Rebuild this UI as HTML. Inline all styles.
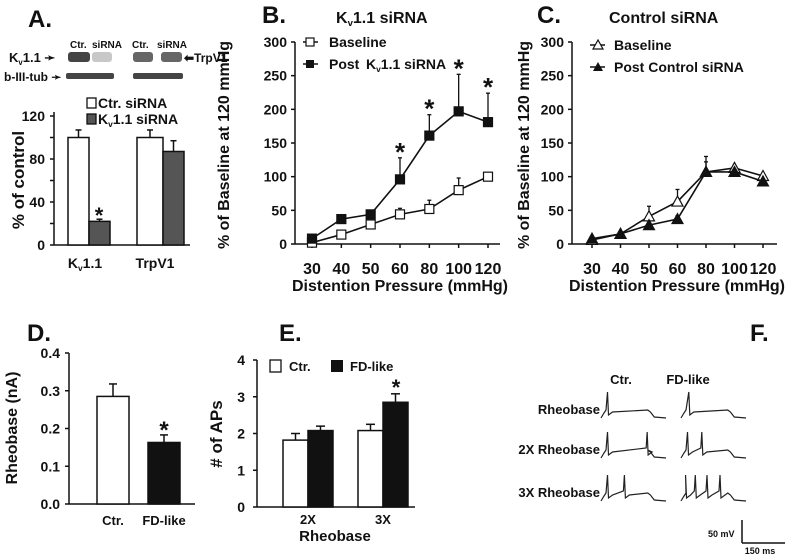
<!DOCTYPE html>
<html><head><meta charset="utf-8">
<style>
html,body{margin:0;padding:0;background:#fff;}
svg{display:block;font-family:"Liberation Sans",Arial,sans-serif;font-weight:bold;}
</style></head>
<body>
<svg id="fig" width="800" height="558" viewBox="0 0 800 558" xmlns="http://www.w3.org/2000/svg"></svg>
<script>
// ---------- data ----------
const aGroups = ["Kv1.1","TrpV1"];
const aCtr = [100,100];
const aCtrErr = [107,107];
const aSi = [22,87];
const aSiErr = [24,97];
const aTicks = [0,40,80,120];

const bCats = [30,40,50,60,80,100,120];
const bBase = [2,14,29,44,52,80,100];
const bBaseErr = [4,16,31,53,65,98,100];
const bPost = [8,37,44,96,161,197,181];
const bPostErr = [10,39,46,128,192,252,224];
const bStar = [false,false,false,true,true,true,true];
const yTicks300 = [0,50,100,150,200,250,300];

const cBase = [6,15,41,63,107,113,101];
const cBaseErr = [8,18,56,81,130,115,103];
const cPost = [8,15,28,37,107,107,93];
const cPostErr = [10,18,30,42,122,109,95];

const dCats = ["Ctr.","FD-like"];
const dVals = [0.285,0.163];
const dErr = [0.318,0.183];
const dTicks = [0.0,0.1,0.2,0.3,0.4];

const eCats = ["2X","3X"];
const eCtr = [1.82,2.08];
const eCtrErr = [2.0,2.25];
const eFD = [2.08,2.85];
const eFDErr = [2.2,3.08];
const eTicks = [0,1,2,3,4];

// ---------- helpers ----------
const svg = document.getElementById('fig');
const NS = "http://www.w3.org/2000/svg";
function el(tag, attrs, parent){
  const e = document.createElementNS(NS, tag);
  for (const k in attrs) e.setAttribute(k, attrs[k]);
  (parent||svg).appendChild(e);
  return e;
}
function txt(x,y,s,size,anchor,parent,extra){
  const t = el('text',{x:x,y:y,'font-size':size,'text-anchor':anchor||'start',fill:'#111'},parent);
  if (extra) for (const k in extra) t.setAttribute(k, extra[k]);
  t.textContent = s;
  return t;
}
function group(name){
  const g = el('g',{});
  
  
  return g;
}
function line(x1,y1,x2,y2,g,w){ return el('line',{x1:x1,y1:y1,x2:x2,y2:y2,stroke:'#111','stroke-width':w||1.5},g); }
function kv(x,y,size,anchor,g,suffix){
  const t = el('text',{x:x,y:y,'font-size':size,'text-anchor':anchor||'start',fill:'#111'},g);
  t.appendChild(document.createTextNode('K'));
  const s = el('tspan',{'font-size':size*0.6,dy:3},t); s.textContent='v';
  const r = el('tspan',{dy:-3},t); r.textContent='1.1'+(suffix||'');
  return t;
}

// ---------- Panel A ----------
(function(){
  const g = group('panel-a');
  txt(28,27,'A.',24,'start',g);
  const wb = group('western-blot');
  txt(70,48,'Ctr.',10,'start',wb); txt(92,48,'siRNA',10,'start',wb);
  txt(132,48,'Ctr.',10,'start',wb); txt(157,48,'siRNA',10,'start',wb);
  kv(9,62,13,'start',wb,' ➛');
  txt(4,81,'b-III-tub ➛',12,'start',wb);
  txt(184,62,'⬅TrpV1',12,'start',wb);
  const bands = [[68,22,'#444'],[92,20,'#c8c8c8'],[133,20,'#666'],[161,21,'#666']];
  bands.forEach(b=>el('rect',{x:b[0],y:52,width:b[1],height:10,rx:3,fill:b[2]},wb));
  [[66,48],[133,50]].forEach(b=>el('rect',{x:b[0],y:73,width:b[1],height:6,rx:2,fill:'#444'},wb));
  const y = v => 245 - v*(129/120);
  const ax = group('panel-a-axes'); g.appendChild(ax);
  line(54,112,54,245,ax); line(54,245,190,245,ax);
  [0,20,40,60,80,100,120].forEach(v=>line(50,y(v),54,y(v),ax));
  aTicks.forEach(v=>txt(45,y(v)+5,String(v),14,'end',ax));
  txt(24,180,'% of control',17,'middle',ax,{transform:'rotate(-90 24 180)'});
  const gx = [68,137], gw=[21,26], sw=[21,21];
  aGroups.forEach((c,i)=>{
    const r1 = el('rect',{x:gx[i],y:y(aCtr[i]),width:gw[i],height:245-y(aCtr[i]),fill:'#fff',stroke:'#111','stroke-width':1.5},g);
    
    
    line(gx[i]+gw[i]/2,y(aCtr[i]),gx[i]+gw[i]/2,y(aCtrErr[i]),g); line(gx[i]+gw[i]/2-3,y(aCtrErr[i]),gx[i]+gw[i]/2+3,y(aCtrErr[i]),g);
    const x2 = gx[i]+gw[i];
    const r2 = el('rect',{x:x2,y:y(aSi[i]),width:sw[i],height:245-y(aSi[i]),fill:'#555',stroke:'#111','stroke-width':1.5},g);
    
    
    line(x2+sw[i]/2,y(aSi[i]),x2+sw[i]/2,y(aSiErr[i]),g); line(x2+sw[i]/2-3,y(aSiErr[i]),x2+sw[i]/2+3,y(aSiErr[i]),g);
  });
  txt(99,y(aSiErr[0])+4,'*',22,'middle',g);
  kv(85,268,14,'middle',g);
  txt(155,268,'TrpV1',14,'middle',g);
  const lg = group('panel-a-legend'); g.appendChild(lg);
  el('rect',{x:87,y:98,width:9,height:10,fill:'#fff',stroke:'#111','stroke-width':1.3},lg);
  txt(98,108,'Ctr. siRNA',14,'start',lg);
  el('rect',{x:87,y:114,width:9,height:10,fill:'#555',stroke:'#111','stroke-width':1.3},lg);
  kv(98,124,14,'start',lg,' siRNA');
})();

// ---------- line chart helper ----------
function lineChart(name, ax0, xs, s1, e1, s2, e2, marker, stars, titleX){
  const g = group(name);
  const y = v => 244 - v*(202/300);
  const x = i => xs[0] + i*(xs[1]-xs[0])/6;
  line(ax0,42,ax0,244,g); line(ax0,244,ax0+205,244,g);
  yTicks300.forEach(v=>{ line(ax0-4,y(v),ax0,y(v),g); txt(ax0-8,y(v)+5,String(v),14,'end',g); });
  bCats.forEach((c,i)=>{ line(x(i),244,x(i),248,g); txt(x(i),274,String(c),16,'middle',g); });
  txt(ax0+105,291,'Distention Pressure (mmHg)',16,'middle',g);
  txt(titleX,145,'% of Baseline at 120 mmHg',16,'middle',g,{transform:'rotate(-90 '+titleX+' 145)'});
  function series(vals, errs, fill, sname){
    const sg = group(sname); g.appendChild(sg);
    vals.forEach((v,i)=>{ line(x(i),y(v),x(i),y(errs[i]),sg,1.3); line(x(i)-2,y(errs[i]),x(i)+2,y(errs[i]),sg,1.3); });
    el('polyline',{points:vals.map((v,i)=>x(i)+','+y(v)).join(' '),fill:'none',stroke:'#111','stroke-width':1.6},sg);
    vals.forEach((v,i)=>{
      let m;
      if (marker==='sq') m = el('rect',{x:x(i)-4.5,y:y(v)-4.5,width:9,height:9,fill:fill,stroke:'#111','stroke-width':1.2},sg);
      else m = el('polygon',{points:(x(i)-5.5)+','+(y(v)+4.5)+' '+x(i)+','+(y(v)-5.5)+' '+(x(i)+5.5)+','+(y(v)+4.5),fill:fill,stroke:'#111','stroke-width':1.2},sg);
      
      
    });
  }
  series(s1,e1,'#fff',name+'-baseline');
  series(s2,e2,'#111',name+'-post');
  if (stars) s2.forEach((v,i)=>{ if(stars[i]) txt(x(i),y(e2[i])+3,'*',26,'middle',g); });
  return {g:g,ax0:ax0};
}

// Panel B
(function(){
  const r = lineChart('panel-b',295,[312,488],bBase,bBaseErr,bPost,bPostErr,'sq',bStar,229);
  const g = r.g;
  txt(262,23,'B.',24,'start',g);
  kv(336,23,16,'start',g,' siRNA');
  line(303,42,318,42,g); el('rect',{x:306,y:38,width:8,height:8,fill:'#fff',stroke:'#111','stroke-width':1.2},g);
  txt(329,47,'Baseline',14,'start',g);
  line(303,64,318,64,g); el('rect',{x:306,y:60,width:8,height:8,fill:'#111'},g);
  txt(329,69,'Post ',14,'start',g);
  kv(366,69,14,'start',g,' siRNA');
})();

// Panel C
(function(){
  const r = lineChart('panel-c',572,[592,763],cBase,cBaseErr,cPost,cPostErr,'tri',null,529);
  const g = r.g;
  txt(537,23,'C.',24,'start',g);
  txt(609,23,'Control siRNA',16,'start',g);
  line(590,45,605,45,g); el('polygon',{points:'593,49 598,40 603,49',fill:'#fff',stroke:'#111','stroke-width':1.2},g);
  txt(614,50,'Baseline',14,'start',g);
  line(590,67,605,67,g); el('polygon',{points:'593,71 598,62 603,71',fill:'#111'},g);
  txt(614,72,'Post Control siRNA',14,'start',g);
})();

// Panel D
(function(){
  const g = group('panel-d');
  txt(27,341,'D.',24,'start',g);
  const y = v => 504 - v*(151/0.4);
  line(69,353,69,504,g); line(69,504,195,504,g);
  dTicks.forEach(v=>{ line(65,y(v),69,y(v),g); txt(60,y(v)+5,v.toFixed(1),14,'end',g); });
  txt(17,428,'Rheobase (nA)',16,'middle',g,{transform:'rotate(-90 17 428)'});
  const bx=[97,148], fills=['#fff','#111'];
  dCats.forEach((c,i)=>{
    const r = el('rect',{x:bx[i],y:y(dVals[i]),width:32,height:504-y(dVals[i]),fill:fills[i],stroke:'#111','stroke-width':1.5},g);
    
    
    line(bx[i]+16,y(dVals[i]),bx[i]+16,y(dErr[i]),g); line(bx[i]+12,y(dErr[i]),bx[i]+20,y(dErr[i]),g);
    txt(bx[i]+16,525,c,13,'middle',g);
  });
  txt(164,y(dErr[1])+3,'*',24,'middle',g);
})();

// Panel E
(function(){
  const g = group('panel-e');
  txt(279,341,'E.',24,'start',g);
  const y = v => 507 - v*(147/4);
  line(257,360,257,507,g); line(257,507,415,507,g);
  eTicks.forEach(v=>{ line(253,y(v),257,y(v),g); txt(245,y(v)+5,String(v),14,'end',g); });
  txt(222,434,'# of APs',17,'middle',g,{transform:'rotate(-90 222 434)'});
  const gx=[283,358];
  eCats.forEach((c,i)=>{
    const r1 = el('rect',{x:gx[i],y:y(eCtr[i]),width:25,height:507-y(eCtr[i]),fill:'#fff',stroke:'#111','stroke-width':1.5},g);
    
    
    line(gx[i]+12.5,y(eCtr[i]),gx[i]+12.5,y(eCtrErr[i]),g); line(gx[i]+8,y(eCtrErr[i]),gx[i]+17,y(eCtrErr[i]),g);
    const r2 = el('rect',{x:gx[i]+25,y:y(eFD[i]),width:25,height:507-y(eFD[i]),fill:'#111',stroke:'#111','stroke-width':1.5},g);
    
    
    line(gx[i]+37.5,y(eFD[i]),gx[i]+37.5,y(eFDErr[i]),g); line(gx[i]+33,y(eFDErr[i]),gx[i]+42,y(eFDErr[i]),g);
    txt(gx[i]+25,524,c,13,'middle',g);
  });
  txt(396,y(eFDErr[1])+1,'*',22,'middle',g);
  txt(335,541,'Rheobase',15,'middle',g);
  el('rect',{x:270,y:360,width:11,height:12,fill:'#fff',stroke:'#111','stroke-width':1.3},g);
  txt(289,371,'Ctr.',13,'start',g);
  el('rect',{x:331,y:360,width:12,height:12,fill:'#111'},g);
  txt(350,371,'FD-like',13,'start',g);
})();

// Panel F (traces)
(function(){
  const g = group('panel-f');
  txt(750,341,'F.',24,'start',g);
  txt(621,384,'Ctr.',13,'middle',g);
  txt(688,384,'FD-like',13,'middle',g);
  const rows = [[418,'Rheobase'],[458,'2X Rheobase'],[501,'3X Rheobase']];
  rows.forEach(r=>txt(600,r[0]-4,r[1],13,'end',g));
  function trace(x0,base,spikes){
    const w=65; let p=[[x0,base],[x0+3,base-5],[x0+5,base-8]];
    const plat = base-6;
    spikes.forEach((f,k)=>{
      const sx=x0+f*w;
      if(k>0) p.push([sx-1,plat-4]);
      p.push([sx,base-26]); p.push([sx+1,base-3]); p.push([sx+5,plat]);
    });
    p.push([x0+w*0.72,plat-2]); p.push([x0+w*0.76,plat]); p.push([x0+w*0.82,base-1]); p.push([x0+w,base]);
    el('polyline',{points:p.map(q=>q.join(',')).join(' '),fill:'none',stroke:'#222','stroke-width':1.2},g);
  }
  trace(601,418,[0.1]); trace(681,418,[0.12]);
  trace(601,458,[0.1,0.71]); trace(681,458,[0.1,0.32]);
  trace(601,501,[0.1,0.36]); trace(681,501,[0.07,0.22,0.4,0.6]);
  line(742,520,742,543,g,1.5); line(742,543,785,543,g,1.5);
  txt(708,537,'50 mV',9,'start',g);
  txt(760,554,'150 ms',9,'middle',g);
})();
</script>
</body></html>
